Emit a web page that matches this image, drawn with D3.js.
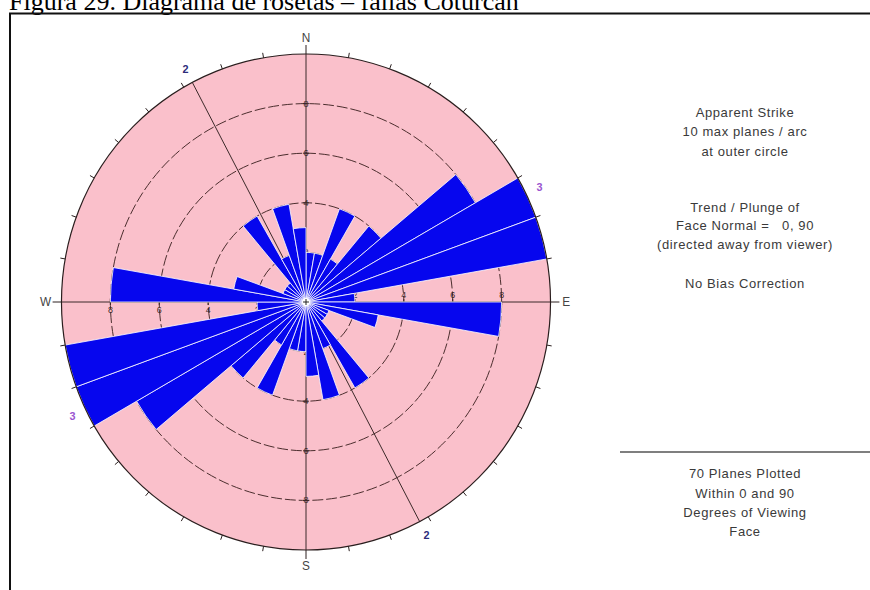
<!DOCTYPE html>
<html>
<head>
<meta charset="utf-8">
<script src="https://cdn.jsdelivr.net/npm/d3@7"></script>
<style>
  html, body { margin: 0; padding: 0; background: #fff; }
  svg { display: block; }
</style>
</head>
<body>
<svg id="chart" width="870" height="590"></svg>
<script>
// Strike bins (10° wide) over 0–180°; the rose is mirrored through the centre
const binStarts = [0, 10, 20, 30, 40, 50, 60, 70, 80, 90, 100, 110, 120, 130, 140, 150, 160, 170];
const planeCounts = [2, 2, 4, 2, 4, 8, 10, 10, 2, 8, 3, 1, 1, 1, 4, 2, 4, 3];
const binWidth = 10;
const maxCount = 10;
const ringValues = [2, 4, 6, 8];
const cardinalLabels = ["N", "E", "S", "W"];
const cardinalBearings = [0, 90, 180, 270];
const setNames = ["2", "3"];
const setTrends = [152.3, 64.2];
const setColors = ["#2c2c7a", "#9a55d0"];
const captionText = "Figura 29. Diagrama de rosetas – fallas Coturcan";
const infoTop = ["Apparent Strike", "10 max planes / arc", "at outer circle"];
const infoMid = ["Trend / Plunge of", "Face Normal =   0, 90", "(directed away from viewer)"];
const infoBias = ["No Bias Correction"];
const infoBottom = ["70 Planes Plotted", "Within 0 and 90", "Degrees of Viewing", "Face"];

const svg = d3.select("#chart");
const cx = 306, cy = 302, R = 248;
const rad = d => d * Math.PI / 180;

// caption and frame
svg.append("text")
  .attr("x", 9).attr("y", 10)
  .attr("font-family", "'Liberation Serif', 'Times New Roman', serif")
  .attr("font-size", 26)
  .attr("fill", "#000")
  .text(captionText);

svg.append("path")
  .attr("d", "M10,590 V13.5 H870")
  .attr("fill", "none")
  .attr("stroke", "#111")
  .attr("stroke-width", 2);

const r = d3.scaleLinear().domain([0, maxCount]).range([0, R]);

const g = svg.append("g")
  .attr("transform", `translate(${cx},${cy}) scale(0.986,1)`);

// point on the plot at a bearing (clockwise from north) and radius
const pt = (bearing, rr) => [rr * Math.sin(rad(bearing)), -rr * Math.cos(rad(bearing))];

// background disc
g.append("circle").attr("r", R).attr("fill", "#fac0cb").attr("stroke", "none");

// count rings
g.selectAll("circle.ring").data(ringValues).join("circle")
  .attr("class", "ring")
  .attr("r", d => r(d))
  .attr("fill", "none")
  .attr("stroke", "#4a2c2c")
  .attr("stroke-width", 1)
  .attr("stroke-dasharray", "11,3");

// N–S and E–W axes
[[0, 180], [90, 270]].forEach(([a, b]) => {
  const p1 = pt(a, R), p2 = pt(b, R);
  g.append("line")
    .attr("x1", p1[0]).attr("y1", p1[1]).attr("x2", p2[0]).attr("y2", p2[1])
    .attr("stroke", "#3a2828").attr("stroke-width", 1);
});

// set trend lines
setTrends.forEach(t => {
  const p1 = pt(t, R), p2 = pt(t + 180, R);
  g.append("line")
    .attr("x1", p1[0]).attr("y1", p1[1]).attr("x2", p2[0]).attr("y2", p2[1])
    .attr("stroke", "#3a2828").attr("stroke-width", 1);
});

// ring values along the axes
const ringLabelFont = "'Liberation Sans', Arial, sans-serif";
cardinalBearings.forEach(b => {
  ringValues.forEach(v => {
    const p = pt(b, r(v));
    const horiz = (b === 90 || b === 270);
    g.append("line")
      .attr("x1", horiz ? p[0] : p[0] - 3).attr("x2", horiz ? p[0] : p[0] + 3)
      .attr("y1", horiz ? p[1] - 3 : p[1]).attr("y2", horiz ? p[1] + 3 : p[1])
      .attr("stroke", "#3a2828").attr("stroke-width", 1);
    g.append("text")
      .attr("x", p[0])
      .attr("y", b === 90 ? p[1] - 4 : b === 270 ? p[1] + 11 : p[1] + 3)
      .attr("text-anchor", "middle")
      .attr("font-family", ringLabelFont)
      .attr("font-size", 9)
      .attr("fill", "#3a2828")
      .text(v);
  });
});

// rose petals (each bin and its opposite)
const arc = d3.arc().innerRadius(0);
const petals = [];
binStarts.forEach((b, i) => {
  petals.push({ start: b, count: planeCounts[i] });
  petals.push({ start: b + 180, count: planeCounts[i] });
});
g.selectAll("path.petal").data(petals.filter(d => d.count > 0)).join("path")
  .attr("class", "petal")
  .attr("d", d => arc({ outerRadius: r(d.count), startAngle: rad(d.start), endAngle: rad(d.start + binWidth) }))
  .attr("fill", "#0606ee")
  .attr("stroke", "#ffffff")
  .attr("stroke-width", 0.8)
  .attr("stroke-linejoin", "miter");

// outer circle and its 10° ticks
g.append("circle").attr("r", R).attr("fill", "none").attr("stroke", "#2a1e1e").attr("stroke-width", 1.2);
const tickBearings = d3.range(0, 360, 10);
g.selectAll("line.tick").data(tickBearings).join("line")
  .attr("class", "tick")
  .attr("x1", d => pt(d, R)[0]).attr("y1", d => pt(d, R)[1])
  .attr("x2", d => pt(d, R + (d % 90 === 0 ? 9 : 5))[0])
  .attr("y2", d => pt(d, R + (d % 90 === 0 ? 9 : 5))[1])
  .attr("stroke", "#2a1e1e").attr("stroke-width", 1);

// compass letters
cardinalLabels.forEach((lab, i) => {
  const p = pt(cardinalBearings[i], R + 16);
  g.append("text")
    .attr("x", p[0]).attr("y", p[1])
    .attr("dy", "0.35em")
    .attr("text-anchor", "middle")
    .attr("font-family", ringLabelFont)
    .attr("font-size", 12)
    .attr("fill", "#444")
    .text(lab);
});

// set labels at both ends of each trend
setTrends.forEach((t, i) => {
  [t, t + 180].forEach(b => {
    const p = pt(b, R + 15);
    g.append("text")
      .attr("x", p[0]).attr("y", p[1])
      .attr("dy", "0.35em")
      .attr("text-anchor", "middle")
      .attr("font-family", ringLabelFont)
      .attr("font-weight", "bold")
      .attr("font-size", 11)
      .attr("fill", setColors[i])
      .text(setNames[i]);
  });
});

// centre mark
g.append("circle").attr("r", 4).attr("fill", "#fff");
g.append("path").attr("d", "M-3,0H3M0,-3V3").attr("stroke", "#222").attr("stroke-width", 1);

// information panel
const infoFont = "'Liberation Sans', Arial, sans-serif";
function infoBlock(lines, ys) {
  svg.append("g").selectAll("text").data(lines).join("text")
    .attr("x", 745).attr("y", (d, i) => ys[i])
    .attr("dy", "0.35em")
    .attr("text-anchor", "middle")
    .attr("font-family", infoFont)
    .attr("font-size", 13)
    .attr("letter-spacing", 0.6)
    .attr("fill", "#3a3a3a")
    .style("white-space", "pre")
    .text(d => d);
}
infoBlock(infoTop, [112, 131, 151]);
infoBlock(infoMid, [207, 225, 244]);
infoBlock(infoBias, [283]);
svg.append("line").attr("x1", 620).attr("x2", 870).attr("y1", 452).attr("y2", 452)
  .attr("stroke", "#555").attr("stroke-width", 1.5);
infoBlock(infoBottom, [473, 493, 512, 531]);
</script>
</body>
</html>
